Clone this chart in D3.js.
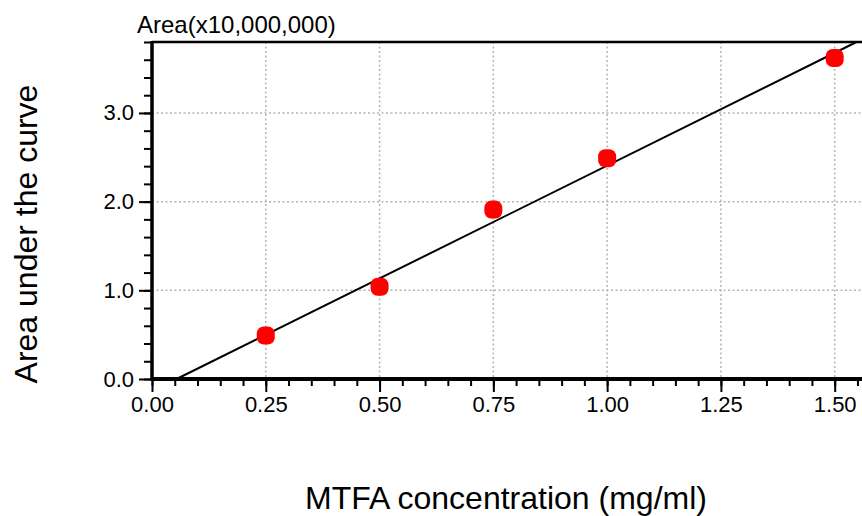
<!DOCTYPE html>
<html>
<head>
<meta charset="utf-8">
<script src="https://cdn.jsdelivr.net/npm/d3@7"></script>
<style>
  body { margin: 0; background: #fff; }
  text { font-family: "Liberation Sans", Arial, sans-serif; fill: #000; }
</style>
</head>
<body>
<div id="chart"></div>
<script>
// data
var concentration = [0.25, 0.50, 0.75, 1.00, 1.50],
    area = [0.49, 1.04, 1.91, 2.49, 3.62],           // x10,000,000
    fitX = [0.054, 1.548], fitY = [0.0, 3.8],        // regression line ends
    xTicks = [0, 0.25, 0.5, 0.75, 1.0, 1.25, 1.5],
    yTicks = [0, 1, 2, 3];

var w = 862, h = 516;
var margin = {top: 42, right: 0, bottom: 137, left: 152},
    width = w - margin.left - margin.right,
    height = h - margin.top - margin.bottom;

var svg = d3.select("#chart").append("svg")
    .attr("width", w)
    .attr("height", h);

var x = d3.scaleLinear().domain([0, 1.56]).range([0, width]),
    y = d3.scaleLinear().domain([0, 3.8]).range([height, 0]);

var g = svg.append("g")
    .attr("transform", "translate(" + margin.left + "," + margin.top + ")");

// dotted grid
g.selectAll(".gx").data(xTicks.filter(function(d) { return d > 0; }))
  .enter().append("line")
    .attr("x1", function(d) { return x(d); }).attr("x2", function(d) { return x(d); })
    .attr("y1", 0).attr("y2", height)
    .attr("stroke", "#b4b4b4").attr("stroke-width", 1.5)
    .attr("stroke-dasharray", "2,2.5");
g.selectAll(".gy").data(yTicks.filter(function(d) { return d > 0; }))
  .enter().append("line")
    .attr("x1", 0).attr("x2", width)
    .attr("y1", function(d) { return y(d); }).attr("y2", function(d) { return y(d); })
    .attr("stroke", "#b4b4b4").attr("stroke-width", 1.5)
    .attr("stroke-dasharray", "2,2.5");

// x axis: major + minor ticks
var xAxis = g.append("g").attr("transform", "translate(0," + height + ")");
xAxis.call(d3.axisBottom(x).tickValues(d3.range(0, 1.56, 0.05)).tickSize(7).tickFormat(""));
xAxis.append("g").call(d3.axisBottom(x).tickValues(xTicks).tickSize(13)
    .tickFormat(d3.format(".2f")));
xAxis.selectAll(".domain").remove();
xAxis.selectAll("line").attr("stroke", "#000").attr("stroke-width", 2);
xAxis.selectAll("text").style("font-size", "22px").attr("dy", "0.78em");

// y axis: major + minor ticks
var yAxis = g.append("g");
yAxis.call(d3.axisLeft(y).tickValues(d3.range(0, 3.81, 0.2)).tickSize(8).tickFormat(""));
yAxis.append("g").call(d3.axisLeft(y).tickValues(yTicks).tickSize(13)
    .tickFormat(d3.format(".1f")));
yAxis.selectAll(".domain").remove();
yAxis.selectAll("line").attr("stroke", "#000").attr("stroke-width", 2);
yAxis.selectAll("text").style("font-size", "22px").attr("x", -18);

// frame
g.append("line").attr("x1", 0).attr("x2", width).attr("y1", 0).attr("y2", 0)
    .attr("stroke", "#000").attr("stroke-width", 2.5);
g.append("line").attr("x1", 0).attr("x2", 0).attr("y1", -1).attr("y2", height + 2)
    .attr("stroke", "#000").attr("stroke-width", 3.5);
g.append("line").attr("x1", 0).attr("x2", width).attr("y1", height).attr("y2", height)
    .attr("stroke", "#000").attr("stroke-width", 4);

// regression line
var line = d3.line().x(function(d) { return x(d[0]); }).y(function(d) { return y(d[1]); });
g.append("path")
    .datum(d3.zip(fitX, fitY))
    .attr("fill", "none")
    .attr("stroke", "#000")
    .attr("stroke-width", 2)
    .attr("d", line);

// points
var s = 18;
g.selectAll(".pt").data(d3.zip(concentration, area))
  .enter().append("rect")
    .attr("x", function(d) { return x(d[0]) - s / 2; })
    .attr("y", function(d) { return y(d[1]) - s / 2; })
    .attr("width", s).attr("height", s)
    .attr("rx", 7).attr("ry", 7)
    .attr("fill", "#ff0000");

// labels
svg.append("text").attr("x", 137).attr("y", 33)
    .style("font-size", "24px").text("Area(x10,000,000)");
svg.append("text")
    .attr("transform", "translate(37,234) rotate(-90)")
    .attr("text-anchor", "middle")
    .style("font-size", "32px").text("Area under the curve");
svg.append("text").attr("x", 506).attr("y", 509)
    .attr("text-anchor", "middle")
    .style("font-size", "32px").text("MTFA concentration (mg/ml)");
</script>
</body>
</html>
